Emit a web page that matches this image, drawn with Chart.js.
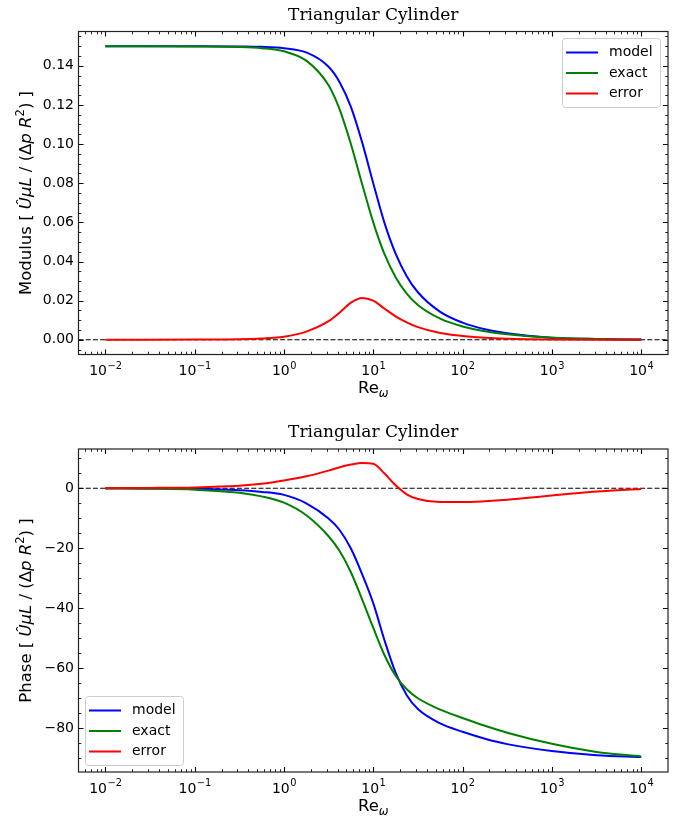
<!DOCTYPE html>
<html>
<head>
<meta charset="utf-8">
<script src="https://cdn.jsdelivr.net/npm/chart.js@4/dist/chart.umd.min.js"></script>
<style>
    body { margin: 0; background: #fff; }
    #wrap { position: relative; width: 676px; height: 820px; }
    canvas { position: absolute; left: 0; }
</style>
</head>
<body>
<div id="wrap">
    <canvas id="modChart" width="676" height="417" style="top:0"></canvas>
    <canvas id="phaseChart" width="676" height="403" style="top:417px"></canvas>
</div>
<script>
// Re_omega sample points
const re = [0.01, 0.0316, 0.1, 0.316, 0.562, 1, 1.78, 3.16, 4.22, 5.62, 7.5, 10, 13.3, 17.8, 23.7, 31.6, 56.2, 100, 178, 316, 1000, 3162, 10000];

// Modulus
const modModel = [0.1500, 0.1500, 0.1500, 0.1499, 0.1497, 0.1490, 0.1468, 0.1395, 0.1315, 0.1190, 0.1010, 0.0800, 0.0600, 0.0440, 0.0325, 0.0243, 0.0143, 0.0088, 0.0054, 0.0033, 0.0011, 0.0004, 0.0001];
const modExact = [0.1500, 0.1500, 0.1499, 0.1496, 0.1490, 0.1474, 0.1426, 0.1300, 0.1175, 0.1000, 0.0796, 0.0600, 0.0440, 0.0320, 0.0236, 0.0178, 0.0108, 0.0068, 0.0044, 0.0028, 0.0010, 0.0004, 0.0001];
const modError = [0.0000, 0.0000, 0.0001, 0.0003, 0.0007, 0.0016, 0.0042, 0.0095, 0.0140, 0.0190, 0.0214, 0.0200, 0.0160, 0.0120, 0.0089, 0.0065, 0.0035, 0.0020, 0.0010, 0.0005, 0.0001, 0.0000, 0.0000];

// Phase (degrees)
const phModel = [0.0, -0.03, -0.15, -0.65, -1.2, -2.2, -5.0, -10.1, -14.0, -20.1, -28.6, -38.3, -50.5, -61.5, -69.0, -73.6, -78.4, -81.2, -83.5, -85.3, -87.6, -89.0, -89.6];
const phExact = [-0.05, -0.15, -0.45, -1.5, -2.7, -4.8, -9.0, -16.0, -21.0, -28.0, -37.0, -46.5, -55.5, -62.5, -67.0, -70.0, -73.8, -76.6, -79.2, -81.5, -85.2, -87.9, -89.4];
const phError = [0.05, 0.12, 0.3, 0.85, 1.5, 2.6, 4.0, 5.9, 7.0, 7.9, 8.45, 8.2, 5.0, 1.0, -2.0, -3.6, -4.6, -4.6, -4.3, -3.8, -2.4, -1.1, -0.2];

const seriesNames = ['model', 'exact', 'error'];
const seriesColors = ['#0000ff', '#008000', '#ff0000'];

// ticks
const xTickExps = [-2, -1, 0, 1, 2, 3, 4];
const modTicks = [0, 0.02, 0.04, 0.06, 0.08, 0.10, 0.12, 0.14];
const phTicks = [-80, -60, -40, -20, 0];

const SANS = "'DejaVu Sans', sans-serif";
const SERIF = "'DejaVu Serif', serif";

function fontOf(p, size) {
    const s = p.sup || p.sub ? size * 0.7 : size;
    return (p.i ? 'italic ' : '') + s + 'px ' + SANS;
}

// texto com partes em itálico / sobrescrito
function drawRich(ctx, parts, cx, cy, rot, size) {
    ctx.save();
    ctx.translate(cx, cy);
    ctx.rotate(rot);
    ctx.fillStyle = '#000';
    ctx.textBaseline = 'alphabetic';
    const widths = parts.map(p => { ctx.font = fontOf(p, size); return ctx.measureText(p.t).width; });
    let x = -widths.reduce((a, b) => a + b, 0) / 2;
    const base = size * 0.36;
    parts.forEach((p, i) => {
        ctx.font = fontOf(p, size);
        let dy = 0;
        if (p.sup) dy = -size * 0.42;
        if (p.sub) dy = size * 0.22;
        ctx.fillText(p.t, x, base + dy);
        x += widths[i];
    });
    ctx.restore();
}

function makeDecor(cfg) {
    return {
        id: 'decor',
        beforeDatasetsDraw(chart) {
            const { ctx, chartArea: a, scales: { y } } = chart;
            const py = y.getPixelForValue(0);
            ctx.save();
            ctx.strokeStyle = '#000';
            ctx.lineWidth = 1.1;
            ctx.setLineDash([5, 2.2]);
            ctx.beginPath();
            ctx.moveTo(a.left, py);
            ctx.lineTo(a.right, py);
            ctx.stroke();
            ctx.restore();
        },
        afterDraw(chart) {
            const { ctx, chartArea: a, scales: { x, y } } = chart;
            ctx.save();
            ctx.strokeStyle = '#000';

            // ticks do eixo x (para dentro, em cima e embaixo)
            for (let d = -3; d <= 4; d++) {
                for (let k = 1; k <= 9; k++) {
                    const v = k * Math.pow(10, d);
                    if (v < x.min || v > x.max) continue;
                    const px = Math.round(x.getPixelForValue(v)) + 0.5;
                    const len = k === 1 ? 5 : 2.8;
                    ctx.lineWidth = k === 1 ? 1.1 : 0.85;
                    ctx.beginPath();
                    ctx.moveTo(px, a.bottom); ctx.lineTo(px, a.bottom - len);
                    ctx.moveTo(px, a.top); ctx.lineTo(px, a.top + len);
                    ctx.stroke();
                }
            }

            // ticks do eixo y (esquerda e direita)
            const step = cfg.minorStep;
            const start = Math.ceil(y.min / step) * step;
            for (let v = start; v <= y.max + 1e-9; v += step) {
                const isMajor = cfg.yTicks.some(t => Math.abs(t - v) < step / 10);
                const py = Math.round(y.getPixelForValue(v)) + 0.5;
                const len = isMajor ? 5 : 2.8;
                ctx.lineWidth = isMajor ? 1.1 : 0.85;
                ctx.beginPath();
                ctx.moveTo(a.left, py); ctx.lineTo(a.left + len, py);
                ctx.moveTo(a.right, py); ctx.lineTo(a.right - len, py);
                ctx.stroke();
            }

            // moldura
            ctx.lineWidth = 1.2;
            ctx.strokeStyle = '#222';
            ctx.strokeRect(a.left, a.top, a.right - a.left, a.bottom - a.top);

            // rótulos do eixo x: 10^n
            ctx.fillStyle = '#000';
            ctx.textBaseline = 'alphabetic';
            xTickExps.forEach(e => {
                const px = x.getPixelForValue(Math.pow(10, e));
                const sup = e < 0 ? '\u2212' + Math.abs(e) : String(e);
                ctx.font = '14px ' + SANS;
                const w1 = ctx.measureText('10').width;
                ctx.font = '9.8px ' + SANS;
                const w2 = ctx.measureText(sup).width;
                const x0 = px - (w1 + w2) / 2;
                ctx.font = '14px ' + SANS;
                ctx.fillText('10', x0, a.bottom + 20.5);
                ctx.font = '9.8px ' + SANS;
                ctx.fillText(sup, x0 + w1 + 0.5, a.bottom + 14);
            });

            // título
            ctx.font = '17px ' + SERIF;
            ctx.textAlign = 'center';
            ctx.textBaseline = 'middle';
            ctx.fillText(cfg.title, (a.left + a.right) / 2, 16);
            ctx.textAlign = 'left';

            // rótulos dos eixos
            drawRich(ctx, [{ t: 'Re' }, { t: '\u03c9', i: 1, sub: 1 }], (a.left + a.right) / 2, a.bottom + 33, 0, 16.5);
            drawRich(ctx, cfg.yLabel, 25, (a.top + a.bottom) / 2, -Math.PI / 2, 16.5);

            // legenda
            const bw = 98, bh = 69;
            const bx = cfg.legend === 'ne' ? a.right - 8 - bw : a.left + 6.5;
            const by = cfg.legend === 'ne' ? a.top + 6.5 : a.bottom - 7 - bh;
            ctx.beginPath();
            ctx.roundRect(bx + 0.5, by + 0.5, bw, bh, 3);
            ctx.fillStyle = 'rgba(255,255,255,0.8)';
            ctx.fill();
            ctx.strokeStyle = '#cccccc';
            ctx.lineWidth = 1;
            ctx.stroke();
            ctx.font = '14px ' + SANS;
            ctx.textBaseline = 'middle';
            chart.data.datasets.forEach((ds, i) => {
                const ry = by + 14.5 + i * 20.5;
                ctx.strokeStyle = ds.borderColor;
                ctx.lineWidth = 2;
                ctx.beginPath();
                ctx.moveTo(bx + 4, ry); ctx.lineTo(bx + 36, ry);
                ctx.stroke();
                ctx.fillStyle = '#000';
                ctx.fillText(ds.label, bx + 47, ry);
            });
            ctx.restore();
        }
    };
}

function buildChart(id, series, yMin, yMax, yTicks, fmt, cfg, canvasH, areaBottom) {
    const ctx = document.getElementById(id).getContext('2d');
    return new Chart(ctx, {
        type: 'line',
        data: {
            datasets: series.map((vals, i) => ({
                label: seriesNames[i],
                data: re.map((r, j) => ({ x: r, y: vals[j] })),
                borderColor: seriesColors[i],
                borderWidth: 2,
                pointRadius: 0,
                fill: false,
                cubicInterpolationMode: 'monotone',
                order: 3 - i
            }))
        },
        options: {
            responsive: false,
            animation: false,
            devicePixelRatio: 1,
            layout: { padding: { top: cfg.top, right: 8, left: 0, bottom: 0 } },
            plugins: { legend: { display: false }, tooltip: { enabled: false } },
            scales: {
                x: {
                    type: 'logarithmic',
                    min: 0.005012,
                    max: 19953,
                    grid: { display: false, drawTicks: false },
                    border: { display: false },
                    ticks: { display: false },
                    afterFit: s => { s.height = canvasH - areaBottom; }
                },
                y: {
                    min: yMin,
                    max: yMax,
                    grid: { display: false, drawTicks: false },
                    border: { display: false },
                    ticks: {
                        padding: 4.5,
                        color: '#000',
                        font: { family: SANS, size: 14 },
                        callback: fmt
                    },
                    afterBuildTicks: s => { s.ticks = yTicks.map(v => ({ value: v })); },
                    afterFit: s => { s.width = 78.5; }
                }
            }
        },
        plugins: [makeDecor(cfg)]
    });
}

const modLabel = [
    { t: 'Modulus [ ' }, { t: '\u00db', i: 1 }, { t: '\u03bcL', i: 1 }, { t: ' / (' }, { t: '\u0394' },
    { t: 'p', i: 1 }, { t: ' ' }, { t: 'R', i: 1 }, { t: '2', sup: 1 }, { t: ') ]' }
];
const phLabel = [
    { t: 'Phase [ ' }, { t: '\u00db', i: 1 }, { t: '\u03bcL', i: 1 }, { t: ' / (' }, { t: '\u0394' },
    { t: 'p', i: 1 }, { t: ' ' }, { t: 'R', i: 1 }, { t: '2', sup: 1 }, { t: ') ]' }
];

buildChart('modChart', [modModel, modExact, modError], -0.0075, 0.1575, modTicks,
    v => v.toFixed(2),
    { title: 'Triangular Cylinder', yLabel: modLabel, legend: 'ne', minorStep: 0.005, yTicks: modTicks, top: 31.5 },
    417, 354.5);

buildChart('phaseChart', [phModel, phExact, phError], -94.6, 13.1, phTicks,
    v => v < 0 ? '\u2212' + Math.abs(v) : String(v),
    { title: 'Triangular Cylinder', yLabel: phLabel, legend: 'sw', minorStep: 5, yTicks: phTicks, top: 32 },
    403, 355);
</script>
</body>
</html>
